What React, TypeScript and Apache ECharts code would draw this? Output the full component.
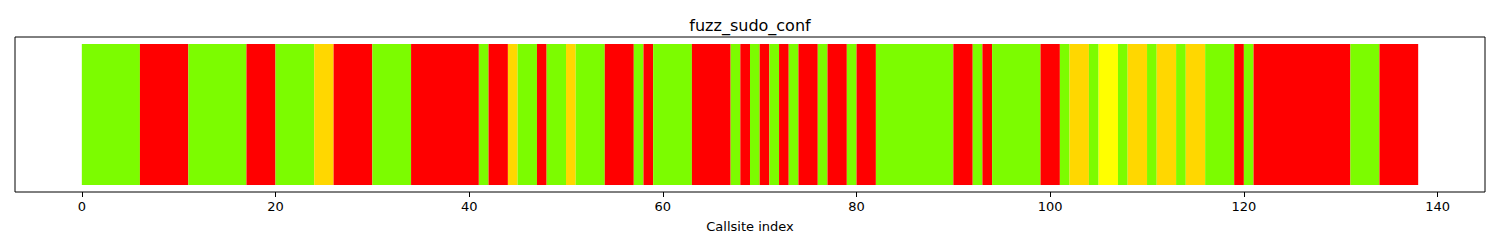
import React, { useEffect, useRef } from "react";
import * as echarts from "echarts";

const chartTitle = "fuzz_sudo_conf";
const xAxisName = "Callsite index";
const xTickValues = [0, 20, 40, 60, 80, 100, 120, 140];

// Run-length segments of callsite statuses: [startIndex, endIndex, status]
const segStarts = [0, 6, 11, 17, 20, 24, 26, 30, 34, 41, 42, 44, 45, 47, 48, 50, 51, 54, 57, 58, 59, 63, 67, 68, 69, 70, 71, 72, 73, 74, 76, 77, 79, 80, 82, 90, 92, 93, 94, 99, 101, 102, 104, 105, 107, 108, 110, 111, 113, 114, 116, 119, 120, 121, 131, 134];
const segEnds = [6, 11, 17, 20, 24, 26, 30, 34, 41, 42, 44, 45, 47, 48, 50, 51, 54, 57, 58, 59, 63, 67, 68, 69, 70, 71, 72, 73, 74, 76, 77, 79, 80, 82, 90, 92, 93, 94, 99, 101, 102, 104, 105, 107, 108, 110, 111, 113, 114, 116, 119, 120, 121, 131, 134, 138];
const segStatus = ["ok", "fail", "ok", "fail", "ok", "partial", "fail", "ok", "fail", "ok", "fail", "partial", "ok", "fail", "ok", "partial", "ok", "fail", "ok", "fail", "ok", "fail", "ok", "fail", "ok", "fail", "ok", "fail", "ok", "fail", "ok", "fail", "ok", "fail", "ok", "fail", "ok", "fail", "ok", "fail", "ok", "partial", "ok", "warn", "ok", "partial", "ok", "partial", "ok", "partial", "ok", "fail", "ok", "fail", "ok", "fail"];

const statusColors: Record<string, string> = {
  ok: "#7CFC00",
  fail: "#FF0000",
  partial: "#FFD700",
  warn: "#FFFF00",
};

export default function App() {
  const ref = useRef<HTMLDivElement>(null);
  useEffect(() => {
    document.body.style.margin = "0";
    if (!ref.current) return;
    const chart = echarts.init(ref.current, null, { renderer: "svg" });
    const data = segStarts.map((s, i) => [s, segEnds[i], segStatus[i]]);
    chart.setOption({
      animation: false,
      textStyle: { fontFamily: "DejaVu Sans" },
      title: {
        text: chartTitle,
        left: "center",
        top: 12,
        textStyle: { fontFamily: "DejaVu Sans", fontSize: 16, fontWeight: "normal", color: "#000" },
      },
      grid: {
        left: 15,
        right: 15,
        top: 37,
        bottom: 58,
        show: true,
        borderColor: "#000",
        borderWidth: 1,
        backgroundColor: "transparent",
      },
      xAxis: {
        type: "value",
        min: -6.9,
        max: 144.9,
        name: xAxisName,
        nameLocation: "middle",
        nameGap: 28,
        nameTextStyle: { fontFamily: "DejaVu Sans", fontSize: 13, color: "#000" },
        splitLine: { show: false },
        axisLine: { show: false, onZero: false },
        axisTick: { show: true, customValues: xTickValues, length: 5, lineStyle: { color: "#000" } },
        axisLabel: {
          customValues: xTickValues,
          fontFamily: "DejaVu Sans",
          fontSize: 13,
          color: "#000",
          margin: 8,
        },
      },
      yAxis: {
        type: "value",
        min: -0.05,
        max: 1.05,
        show: false,
      },
      series: [
        {
          type: "custom",
          data,
          encode: { x: [0, 1] },
          renderItem: (params: any, api: any) => {
            const s = api.value(0);
            const e = api.value(1);
            const st = data[params.dataIndex][2] as string;
            const p0 = api.coord([s, 1]);
            const p1 = api.coord([e, 0]);
            return {
              type: "rect",
              shape: { x: p0[0], y: p0[1], width: p1[0] - p0[0], height: p1[1] - p0[1] },
              style: { fill: statusColors[st] },
            };
          },
        },
      ],
    });
    return () => chart.dispose();
  }, []);
  return <div ref={ref} style={{ width: 1500, height: 250 }} />;
}
